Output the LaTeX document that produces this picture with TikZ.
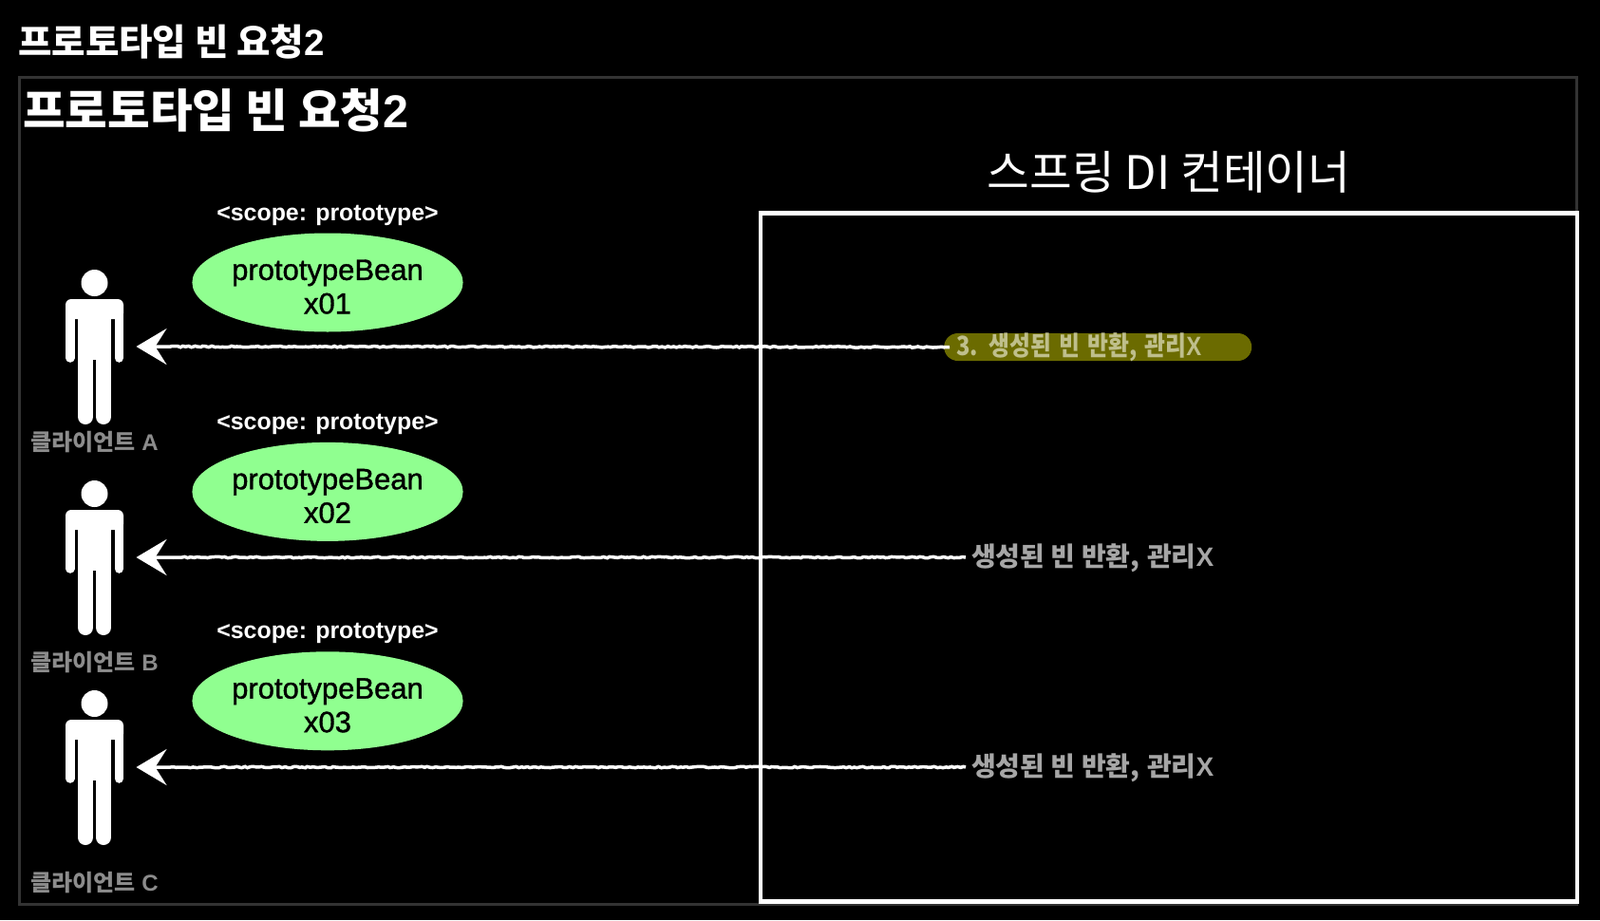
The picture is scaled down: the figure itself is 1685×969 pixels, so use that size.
\documentclass[tikz,border=0pt]{standalone}
\usepackage{fontspec}
\setmainfont{Liberation Sans}
\newfontfamily\kr{Noto Sans CJK KR}
\newfontfamily\semi[FakeBold=1.2]{Liberation Sans}
\newfontfamily\heavy[UprightFont={* Bold}]{Liberation Sans}
\usetikzlibrary{positioning,shapes.geometric,arrows.meta,decorations.pathmorphing}

\begin{document}
\begin{tikzpicture}[
% first : the style of the scheme
    x=1pt,
    y=-1pt,
    framebox/.style={
        rectangle,
        draw=black!80,
        line width=3pt,
        inner sep=0pt
    },
    containerbox/.style={
        rectangle,
        draw=white,
        line width=4.5pt,
        inner sep=0pt,
        minimum width=860pt,
        minimum height=725pt
    },
    bean/.style={
        ellipse,
        fill=beangreen,
        text=black,
        align=center,
        inner sep=0pt,
        text height=66pt,
        minimum width=284pt,
        minimum height=104pt,
        font=\fontsize{31}{35.5}\selectfont\semi
    },
    scopelabel/.style={
        text=white,
        inner sep=0pt,
        font=\fontsize{24.9}{28}\selectfont\bfseries
    },
    clientlabel/.style={
        text=black!45,
        inner sep=0pt,
        font=\fontsize{24}{28}\selectfont\bfseries
    },
    returnlabel/.style={
        text=black!35,
        inner sep=0pt,
        anchor=west,
        font=\fontsize{28}{30}\selectfont\bfseries
    },
    returnpill/.style={
        rectangle,
        rounded corners=14.5pt,
        fill=pillolive,
        text=pilltext,
        inner xsep=13pt,
        inner ysep=0pt,
        text width=298pt,
        text height=18pt,
        text depth=0pt,
        align=left,
        minimum height=29pt,
        anchor=west,
        font=\fontsize{28}{30}\selectfont\bfseries
    },
    returnline/.style={
        ->,
        white,
        line width=3.5pt,
        decorate,
        decoration={random steps, segment length=3pt, amplitude=.7pt, post=lineto, post length=36pt}
    },
    >={Stealth[length=32pt,width=38pt,inset=12pt]},
    person/.pic={
        \fill[white] (0,-67) circle (14);
        \fill[white, rounded corners=6pt] (-30.5,-50) rectangle (30.5,-29);
        \fill[white] (-17.5,-40) rectangle (17.5,14);
        \draw[white, line width=9.5pt, line cap=round] (-25.75,-35) -- (-25.75,12);
        \draw[white, line width=9.5pt, line cap=round] (25.75,-35) -- (25.75,12);
        \draw[white, line width=16pt, line cap=round] (-9.5,10) -- (-9.5,74);
        \draw[white, line width=16pt, line cap=round] (9.5,10) -- (9.5,74);
        \coordinate (-hand) at (44,0);
    }
]
\definecolor{beangreen}{HTML}{90FF90}
\definecolor{pillolive}{HTML}{6B6B00}
\definecolor{pilltext}{HTML}{BFBF8C}

\useasboundingbox[fill=black] (0,0) rectangle (1685,969);

% titles
\node[anchor=west, inner sep=0pt, text=white, font=\fontsize{38.5}{44}\selectfont\bfseries] (pagetitle) at (19,44) {{\kr 프로토타입 빈 요청}{\mdseries\heavy 2}};
\node[framebox, minimum width=1640pt, minimum height=871pt] (frame) at (840,516.5) {};
\node[anchor=west, inner sep=0pt, text=white, font=\fontsize{48.5}{54}\selectfont\bfseries] (frametitle) at (24,116) {{\kr 프로토타입 빈 요청}{\mdseries\heavy 2}};

% container
\node[containerbox] (container) at (1231,587) {};
\node[above=19pt of container, inner sep=0pt, text=white, font=\fontsize{48.6}{56}\selectfont\kr] (containertitle) {스프링 DI 컨테이너};

% beans
\node[bean] (bean1) at (345,297.5) {prototypeBean\\x01};
\node[bean, below=116pt of bean1] (bean2) {prototypeBean\\x02};
\node[bean, below=116pt of bean2] (bean3) {prototypeBean\\x03};
\node[scopelabel, above=7pt of bean1] (scope1) {<scope: prototype>};
\node[scopelabel, above=8pt of bean2] (scope2) {<scope: prototype>};
\node[scopelabel, above=8pt of bean3] (scope3) {<scope: prototype>};

% clients
\pic (personA) at (99.5,365) {person};
\pic (personB) at (99.5,587) {person};
\pic (personC) at (99.5,808) {person};
\node[clientlabel] (clientA) at (99.5,466) {{\kr 클라이언트} {\mdseries\heavy A}};
\node[clientlabel] (clientB) at (99.5,698) {{\kr 클라이언트} {\mdseries\heavy B}};
\node[clientlabel] (clientC) at (99.5,930) {{\kr 클라이언트} {\mdseries\heavy C}};

% return labels
\node[returnpill] (return1) at (994,365.5) {\scalebox{0.85}[1]{{\kr 3. 생성된 빈 반환,} {\kr 관리}{\mdseries\heavy X}}};
\node[returnlabel] (return2) at (1023,588) {{\kr 생성된 빈 반환,} {\kr 관리}{\mdseries\heavy X}};
\node[returnlabel] (return3) at (1023,809) {{\kr 생성된 빈 반환,} {\kr 관리}{\mdseries\heavy X}};

% links
\draw[returnline] ([xshift=6pt]return1.west) -- (personA-hand);
\draw[returnline] ([xshift=-6pt,yshift=1pt]return2.west) -- (personB-hand);
\draw[returnline] ([xshift=-6pt,yshift=1pt]return3.west) -- (personC-hand);

\end{tikzpicture}
\end{document}
